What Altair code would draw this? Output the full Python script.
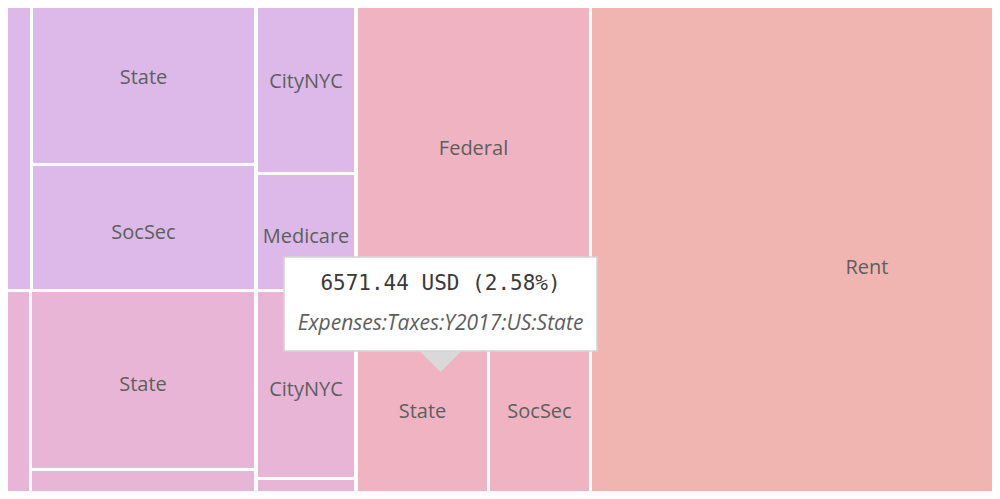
import altair as alt
import pandas as pd

# Treemap cells (layout extents in screen units of the original view) and labels
names = ["", "State", "SocSec", "CityNYC", "Medicare",
         "", "State", "", "CityNYC", "",
         "Federal", "State", "SocSec",
         "Rent"]
groups = ["g1", "g1", "g1", "g1", "g1",
          "g2", "g2", "g2", "g2", "g2",
          "g3", "g3", "g3",
          "g4"]
x0 = [-100, 33, 33, 258, 258, -100, 32, 32, 258, 258, 358, 358, 490, 592]
x1 = [30, 254, 254, 354, 354, 29, 254, 254, 354, 354, 589, 487, 589, 1142]
y0 = [-18, -18, 166, -18, 175, 292, 292, 471, 292, 480, -18, 309, 309, -18]
y1 = [289, 163, 289, 172, 289, 560, 468, 560, 477, 560, 306, 505, 505, 544]

group_names = ["g1", "g2", "g3", "g4"]
group_colors = ["#dcb9e8", "#e8b5d6", "#f0b3c1", "#f0b5b0"]

# tooltip content
tip_value = "6571.44 USD (2.58%)"
tip_account = "Expenses:Taxes:Y2017:US:State"
tip_box = {"x": [284], "x2": [597], "y": [257], "y2": [351]}

df = pd.DataFrame({"name": names, "group": groups, "x0": x0, "x1": x1, "y0": y0, "y1": y1})
df["cx"] = (df["x0"] + df["x1"]) / 2
df["cy"] = (df["y0"] + df["y1"]) / 2

W, H = 984, 483
xs = alt.Scale(domain=[8, 992])
ys = alt.Scale(domain=[8, 491], reverse=True)

base = alt.Chart(df)
rects = base.mark_rect(clip=True).encode(
    x=alt.X("x0:Q", scale=xs, axis=None),
    x2="x1:Q",
    y=alt.Y("y0:Q", scale=ys, axis=None),
    y2="y1:Q",
    color=alt.Color("group:N", scale=alt.Scale(domain=group_names, range=group_colors), legend=None),
)
labels = base.mark_text(clip=True, font="Open Sans", fontSize=20, color="#5e5e5e", dy=5).encode(
    x=alt.X("cx:Q", scale=xs, axis=None),
    y=alt.Y("cy:Q", scale=ys, axis=None),
    text="name:N",
)

tdf = pd.DataFrame(tip_box)
tdf["cx"] = (tdf["x"] + tdf["x2"]) / 2
tdf["v"] = [tip_value]
tdf["a"] = [tip_account]
tbase = alt.Chart(tdf)
box = tbase.mark_rect(fill="white", stroke="#d4d4d4", strokeWidth=1.5).encode(
    x=alt.X("x:Q", scale=xs, axis=None), x2="x2:Q",
    y=alt.Y("y:Q", scale=ys, axis=None), y2="y2:Q",
)
arrow = tbase.mark_point(shape="M-1,0L1,0L0,1Z", size=1764, filled=True, fill="#d9d9d9", opacity=1, strokeWidth=0).encode(
    x=alt.X("cx:Q", scale=xs, axis=None),
    y=alt.Y("y2:Q", scale=ys, axis=None),
)
t1 = tbase.mark_text(font="DejaVu Sans Mono", fontSize=21, color="#3a3a3a", dy=27).encode(
    x=alt.X("cx:Q", scale=xs, axis=None),
    y=alt.Y("y:Q", scale=ys, axis=None),
    text="v:N",
)
t2 = tbase.mark_text(font="Open Sans", fontStyle="italic", fontSize=21, color="#5e5e5e", dy=-27).encode(
    x=alt.X("cx:Q", scale=xs, axis=None),
    y=alt.Y("y2:Q", scale=ys, axis=None),
    text="a:N",
)

chart = alt.layer(rects, labels, arrow, box, t1, t2).properties(
    width=W, height=H, padding=0, background="white"
).configure_view(stroke=None)

chart.save("out.html", embed_options={"renderer": "svg", "actions": False})
